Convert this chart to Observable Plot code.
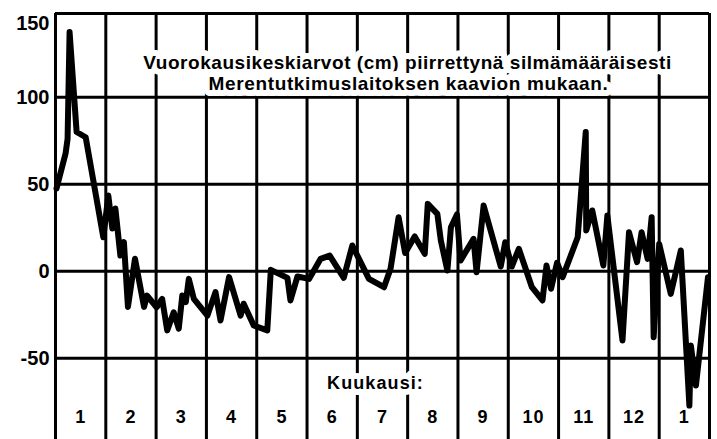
<!DOCTYPE html>
<html><head><meta charset="utf-8">
<script src="https://cdn.jsdelivr.net/npm/d3@7"></script>
<script src="https://cdn.jsdelivr.net/npm/@observablehq/plot@0.6"></script>
<style>html,body{margin:0;padding:0;background:#fff} svg{display:block}</style>
</head><body><div id="chart"></div>
<script>
// position along the year, in months from the start of January (0 = 1 Jan, 12 = 1 Jan next year)
const monthPos = [0.02,0.20,0.24,0.28,0.42,0.60,0.95,1.05,1.13,1.19,1.29,1.36,1.44,1.58,1.76,1.82,2.01,2.12,2.22,2.35,
  2.45,2.52,2.59,2.65,2.75,3.02,3.18,3.28,3.45,3.68,3.74,3.94,4.21,4.28,4.61,4.67,4.81,5.04,5.27,5.45,
  5.73,5.90,6.23,6.53,6.66,6.82,6.95,7.14,7.34,7.40,7.59,7.66,7.79,7.86,7.98,8.05,8.31,8.37,8.51,8.85,
  8.94,9.07,9.21,9.47,9.68,9.76,9.85,9.97,10.08,10.38,10.54,10.55,10.67,10.89,10.97,11.27,11.40,11.56,11.65,11.77,
  11.85,11.89,12.00,12.23,12.43,12.60,12.63,12.73,12.97];
// daily mean sea level (cm)
const levelCm = [47.5,67.6,76,137.4,80,77,19.5,43.5,24.5,36,9,16.7,-20.5,7.2,-20.5,-14,-20.7,-15.9,-34,-23.6,
  -33,-14,-17.8,-4.4,-15.9,-25.5,-12,-28.3,-3.4,-25.5,-18.7,-31.2,-34,0.8,-3.8,-16.8,-3,-4.4,7.1,9,
  -3.8,14.8,-4.4,-9.2,1.4,31,10.5,20,10,38.7,33,17.6,0.4,25.3,32.6,6.1,18.6,-0.6,37.8,2.7,
  16.7,2.7,12.9,-9.2,-16.8,3.3,-10.1,4.9,-3.4,19.5,80,23.4,34.9,3.3,32,-39.8,22.4,5.2,22.4,7.1,
  31,-37.9,15.7,-13,11.9,-77.2,-42.7,-65.7,-3.4];
const monthLabels = ["1","2","3","4","5","6","7","8","9","10","11","12","1"];
const yTicks = [100, 50, 0, -50];
const yTopTick = [150];
const titleLines = ["Vuorokausikeskiarvot (cm) piirrettynä silmämääräisesti", "Merentutkimuslaitoksen kaavion mukaan."];
const xAxisTitle = "Kuukausi:";

const yMin = -96.7, yMax = 148.1;
const data = monthPos.map((t, i) => ({t, v: levelCm[i]}));
const monthEdges = d3.range(0, monthLabels.length + 1);
const monthCenters = monthLabels.map((m, i) => ({m, c: i + 0.5}));
const font = "'Liberation Sans', Arial, sans-serif";
const fmt = d => String(d);

const chart = Plot.plot({
  width: 717, height: 439,
  marginLeft: 55, marginRight: 8, marginTop: 13, marginBottom: 0,
  x: {domain: [0, monthLabels.length], axis: null},
  y: {domain: [yMin, yMax], label: null},
  style: {fontFamily: font, background: "white", color: "black", overflow: "visible"},
  marks: [
    Plot.ruleY([yMax, ...yTicks], {stroke: "black", strokeWidth: 3}),
    Plot.ruleX(monthEdges, {stroke: "black", strokeWidth: 3}),
    Plot.line(data, {x: "t", y: "v", stroke: "black", strokeWidth: 6, strokeLinejoin: "round", strokeLinecap: "round"}),
    Plot.axisY(yTicks, {label: null, tickSize: 0, tickPadding: 6, tickFormat: fmt, fontSize: 20, fontWeight: "bold", fill: "black"}),
    Plot.axisY(yTopTick, {label: null, tickSize: 0, tickPadding: 6, tickFormat: fmt, fontSize: 20, fontWeight: "bold", fill: "black", dy: 13}),
    Plot.text(monthCenters, {x: "c", text: "m", frameAnchor: "bottom", dy: -17, fontSize: 18, fontWeight: "bold", fill: "black"}),
    Plot.text([xAxisTitle], {frameAnchor: "bottom", dx: -7, dy: -51, fontSize: 18, fontWeight: "bold", fill: "black", stroke: "white", strokeWidth: 12}),
    Plot.text([titleLines[0]], {frameAnchor: "top", dx: 25, dy: 42, fontSize: 19, fontWeight: "bold", fill: "black", stroke: "white", strokeWidth: 12}),
    Plot.text([titleLines[1]], {frameAnchor: "top", dx: 26, dy: 63, fontSize: 19, fontWeight: "bold", fill: "black", stroke: "white", strokeWidth: 12})
  ]
});
// letter spacing for the text marks (in mark order: month labels, axis title, title line 1, title line 2)
const spacing = [1, 1.1, 0.55, 0.63];
d3.select(chart).selectAll('g[aria-label="text"]').each(function(_, i) {
  if (spacing[i] != null) this.setAttribute("letter-spacing", spacing[i]);
});
document.getElementById("chart").appendChild(chart);
</script>
</body></html>
